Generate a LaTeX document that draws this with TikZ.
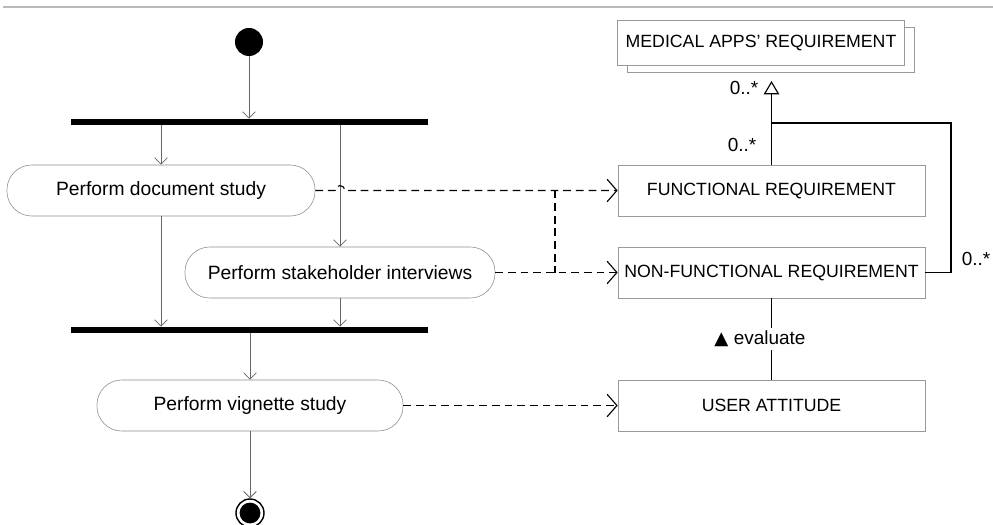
\documentclass[tikz,border=0pt]{standalone}
\usepackage{fontspec}
\setmainfont{Liberation Sans}
\newfontfamily\symfont{DejaVu Sans}
\usetikzlibrary{arrows.meta}
\usetikzlibrary{shadows}

\tikzset{
  action/.style={draw=gray!90, rounded corners=0.62cm, minimum height=1.275cm, inner sep=0pt, font=\fontsize{13.7}{16}\selectfont},
  classbox/.style={draw=gray!80, fill=white, minimum width=7.675cm, minimum height=1.275cm, inner sep=0pt, font=\fontsize{12.6}{15}\selectfont},
  syncbar/.style={fill=black, minimum width=8.925cm, minimum height=0.15cm, inner sep=0pt},
  flow/.style={draw=black!60, line width=0.6pt, -{Straight Barb[length=4.5pt,width=9pt]}},
  dep/.style={draw=black, dash pattern=on 5.5pt off 3.5pt, line width=0.8pt, -{Straight Barb[length=7pt,width=16pt]}},
  assoc/.style={draw=black, line width=0.8pt},
  mult/.style={font=\fontsize{13.5}{16}\selectfont},
}

\begin{document}
\begin{tikzpicture}[x=0.025cm,y=-0.025cm]
			\useasboundingbox (0,0) rectangle (993,525);
			
			% header rule
			\draw[gray!55, line width=1.4pt] (3,7) -- (993,7);
			
			% activity nodes
			\node[circle, fill=black, minimum size=0.7cm, inner sep=0pt] (start) at (249,42) {};
			\node[syncbar] (fork) at (249.5,122) {};
			\node[action, minimum width=7.7cm] (doc) at (161,190.5) {Perform document study};
			\node[action, minimum width=7.75cm] (stake) at (340,272.5) {Perform stakeholder interviews};
			\node[syncbar] (join) at (249.5,330) {};
			\node[action, minimum width=7.65cm] (vign) at (250,405.5) {Perform vignette study};
			\node[circle, draw=black, line width=1pt, minimum size=0.7cm, inner sep=0pt,
			      path picture={\fill[black] (path picture bounding box.center) circle (0.26cm);}] (stop) at (250,513) {};
			
			% control flow
			\draw[flow] (start) -- (start |- fork.north);
			\draw[flow] (fork.south -| doc.north) -- (doc.north);
			\draw[flow] (fork.south -| stake.north) -- (stake.north);
			\draw[flow] (doc.south) -- (doc.south |- join.north);
			\draw[flow] (stake.south) -- (stake.south |- join.north);
			\draw[flow] (join.south -| vign.north) -- (vign.north);
			\draw[flow] (vign.south) -- (stop.north);
			
			% classes
			\node[classbox, minimum width=7.175cm, minimum height=1.125cm,
			      copy shadow={shadow xshift=7pt, shadow yshift=-5pt, draw=gray!80, fill=white}] (med) at (761,42.5) {MEDICAL APPS' REQUIREMENT};
			\node[classbox] (fr) at (771.5,190.5) {FUNCTIONAL REQUIREMENT};
			\node[classbox] (nfr) at (771.5,272.5) {NON-FUNCTIONAL REQUIREMENT};
			\node[classbox] (ua) at (771.5,405.5) {USER ATTITUDE};
			
			% generalization and association
			\coordinate (gtip) at (772,81);
			\coordinate (bend) at (951,123);
			\draw[assoc, -{Triangle[open,length=9.5pt,width=11pt]}] (fr.north) -- (fr.north |- gtip);
			\draw[assoc] (nfr.east) -| (bend) -- (bend -| fr.north);
			\node[mult] (m1) at (744,88) {0..*};
			\node[mult] (m2) at (742,145) {0..*};
			\node[mult] (m3) at (976,259) {0..*};
			
			% evaluate
			\draw[assoc] (nfr.south) -- (ua.north);
			\node[mult, fill=white, inner sep=2pt] (eval) at (760,339) {{\symfont\fontsize{13}{14}\selectfont ▲} evaluate};
			
			% dependencies
			\coordinate (jmp) at (doc.east -| stake.north);
			\coordinate (mrg) at (555,0);
			\draw[dep] (doc.east) -- ([xshift=-3.5pt]jmp) arc[start angle=180, end angle=0, radius=3.5pt] -- (fr.west);
			\draw[dep] (stake.east) -- (nfr.west);
			\draw[dep, -] (mrg |- doc.east) -- (mrg |- stake.east);
			\draw[dep] (vign.east) -- (ua.west);
			
		\end{tikzpicture}
\end{document}
